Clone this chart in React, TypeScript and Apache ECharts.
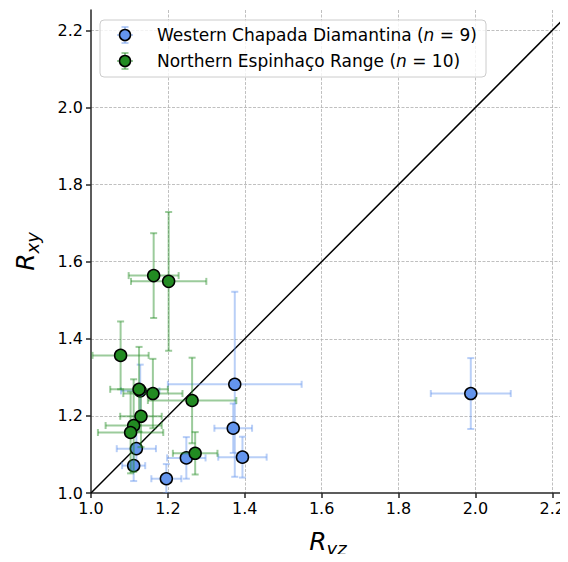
import React, { useEffect, useRef } from "react";
import * as echarts from "echarts";

// Western Chapada Diamantina: [Ryz, Rxy, xerr, yerr]
const westernRyz = [1.374, 1.370, 1.394, 1.248, 1.118, 1.111, 1.196, 1.988, 1.128];
const westernRxy = [1.282, 1.168, 1.093, 1.091, 1.115, 1.071, 1.037, 1.258, 1.265];
const westernRyzErr = [0.174, 0.049, 0.063, 0.050, 0.051, 0.030, 0.039, 0.104, 0.050];
const westernRxyErr = [0.240, 0.064, 0.053, 0.054, 0.050, 0.040, 0.038, 0.092, 0.068];

// Northern Espinhaço Range
const northernRyz = [1.163, 1.202, 1.077, 1.125, 1.161, 1.263, 1.130, 1.111, 1.103, 1.271];
const northernRxy = [1.564, 1.549, 1.357, 1.269, 1.258, 1.240, 1.199, 1.175, 1.157, 1.103];
const northernRyzErr = [0.065, 0.098, 0.073, 0.075, 0.077, 0.115, 0.054, 0.073, 0.085, 0.058];
const northernRxyErr = [0.110, 0.180, 0.088, 0.110, 0.090, 0.111, 0.080, 0.120, 0.106, 0.055];

const oneToOne = [1.0, 2.4];
const axisMin = 1.0;
const xMax = 2.233;
const yMax = 2.253;
const tickStep = 0.2;

const FONT = "DejaVu Sans";
const BLUE = "#6495ED";
const GREEN = "#228B22";

function rows(xs: number[], ys: number[], ex: number[], ey: number[]) {
  return xs.map((x, i) => [x, ys[i], ex[i], ey[i]]);
}

function errSeries(name: string, data: number[][], color: string) {
  return {
    type: "custom",
    name,
    data,
    z: 2,
    clip: true,
    renderItem: (_p: any, api: any) => {
      const x = api.value(0), y = api.value(1), ex = api.value(2), ey = api.value(3);
      const l = api.coord([x - ex, y]);
      const r = api.coord([x + ex, y]);
      const t = api.coord([x, y + ey]);
      const b = api.coord([x, y - ey]);
      const cap = 3.5;
      const style = { stroke: color, lineWidth: 2, opacity: 0.45 };
      const seg = (x1: number, y1: number, x2: number, y2: number) => ({
        type: "line",
        shape: { x1, y1, x2, y2 },
        style,
      });
      return {
        type: "group",
        children: [
          seg(l[0], l[1], r[0], r[1]),
          seg(t[0], t[1], b[0], b[1]),
          seg(l[0], l[1] - cap, l[0], l[1] + cap),
          seg(r[0], r[1] - cap, r[0], r[1] + cap),
          seg(t[0] - cap, t[1], t[0] + cap, t[1]),
          seg(b[0] - cap, b[1], b[0] + cap, b[1]),
        ],
      };
    },
  };
}

function legendRow(y: number, color: string, label: string) {
  const x = 125;
  const s = { stroke: color, lineWidth: 2, opacity: 0.45 };
  return [
    { type: "line", shape: { x1: x, y1: y - 8, x2: x, y2: y + 8 }, style: s },
    { type: "line", shape: { x1: x - 8, y1: y, x2: x + 8, y2: y }, style: s },
    { type: "line", shape: { x1: x - 3.5, y1: y - 8, x2: x + 3.5, y2: y - 8 }, style: s },
    { type: "line", shape: { x1: x - 3.5, y1: y + 8, x2: x + 3.5, y2: y + 8 }, style: s },
    { type: "circle", shape: { cx: x, cy: y, r: 5.5 }, style: { fill: color, stroke: "#000", lineWidth: 1.5 } },
    {
      type: "text",
      x: 157,
      y,
      style: {
        text: label,
        fontFamily: FONT,
        fontSize: 17,
        fill: "#000",
        verticalAlign: "middle",
        rich: { i: { fontStyle: "italic", fontFamily: FONT, fontSize: 17 } },
      },
    },
  ];
}

export default function App() {
  const ref = useRef<HTMLDivElement>(null);
  useEffect(() => {
    if (!ref.current) return;
    const chart = echarts.init(ref.current, null, { renderer: "svg" });
    const axisCommon = {
      type: "value",
      min: axisMin,
      interval: tickStep,
      axisLine: { show: true, onZero: false, lineStyle: { color: "#262626", width: 1.5 } },
      axisTick: { show: true, length: 5, lineStyle: { color: "#262626", width: 1.5 } },
      axisLabel: {
        color: "#000",
        fontFamily: FONT,
        fontSize: 16,
        showMaxLabel: false,
        formatter: (v: number) => v.toFixed(1),
      },
      splitLine: {
        show: true,
        showMaxLine: false,
        showMinLine: false,
        lineStyle: { color: "#b0b0b0", type: [3, 1.5], width: 0.8 },
      },
      nameLocation: "middle",
    };
    const nameRich = {
      r: { fontFamily: FONT, fontSize: 25, fontStyle: "italic", color: "#000" },
      s: { fontFamily: FONT, fontSize: 18, fontStyle: "italic", color: "#000", padding: [14, 0, 0, 0] },
    };
    chart.setOption({
      animation: false,
      backgroundColor: "#fff",
      grid: { left: 91, right: 0, top: 10, bottom: 67, containLabel: false },
      xAxis: {
        ...axisCommon,
        max: xMax,
        axisLabel: { ...axisCommon.axisLabel, margin: 7 },
        name: "{r|R}{s|yz}",
        nameGap: 32,
        nameTextStyle: { rich: nameRich },
      },
      yAxis: {
        ...axisCommon,
        max: yMax,
        axisLabel: { ...axisCommon.axisLabel, margin: 8 },
        name: "{r|R}{s|xy}",
        nameGap: 50,
        nameRotate: 90,
        nameTextStyle: { rich: nameRich },
      },
      series: [
        {
          type: "line",
          data: oneToOne.map((v) => [v, v]),
          symbol: "none",
          lineStyle: { color: "#000", width: 1.5 },
          z: 1,
          clip: true,
          silent: true,
        },
        errSeries("wErr", rows(westernRyz, westernRxy, westernRyzErr, westernRxyErr), BLUE),
        {
          type: "scatter",
          data: westernRyz.map((x, i) => [x, westernRxy[i]]),
          symbolSize: 12,
          itemStyle: { color: BLUE, borderColor: "#000", borderWidth: 1.5, opacity: 1 },
          z: 3,
        },
        { ...errSeries("nErr", rows(northernRyz, northernRxy, northernRyzErr, northernRxyErr), GREEN), z: 4 },
        {
          type: "scatter",
          data: northernRyz.map((x, i) => [x, northernRxy[i]]),
          symbolSize: 12,
          itemStyle: { color: GREEN, borderColor: "#000", borderWidth: 1.5, opacity: 1 },
          z: 5,
        },
      ],
      graphic: [
        {
          type: "rect",
          shape: { x: 100, y: 20, width: 386, height: 57, r: 4 },
          style: { fill: "rgba(255,255,255,0.8)", stroke: "#cccccc", lineWidth: 1 },
          z: 100,
        },
        ...legendRow(35, BLUE, "Western Chapada Diamantina ({i|n} = 9)").map((e) => ({ ...e, z: 101 })),
        ...legendRow(61, GREEN, "Northern Espinhaço Range ({i|n} = 10)").map((e) => ({ ...e, z: 101 })),
      ],
    });
    return () => chart.dispose();
  }, []);
  return <div ref={ref} style={{ width: 568, height: 562, margin: -8 }} />;
}
